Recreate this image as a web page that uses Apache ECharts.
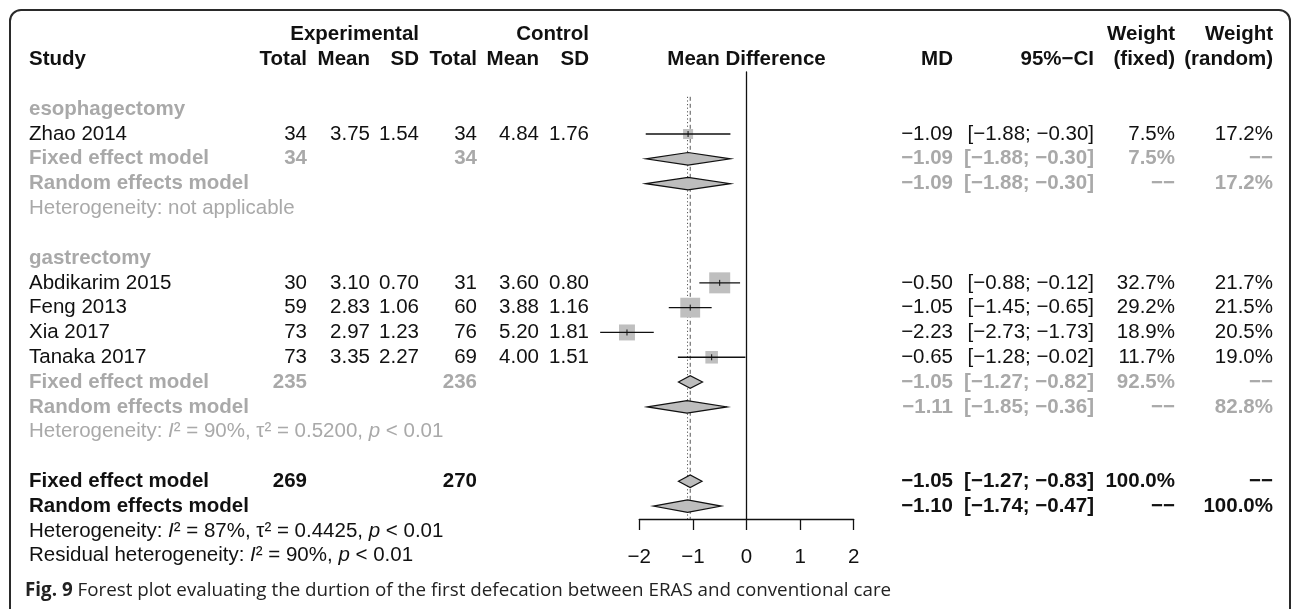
<!DOCTYPE html>
<html>
<head>
<meta charset="utf-8">
<script src="https://cdn.jsdelivr.net/npm/echarts@6/dist/echarts.min.js"></script>
<style>
  html, body { margin: 0; padding: 0; background: #fff; }
  #chart { width: 1292px; height: 609px; }
</style>
</head>
<body>
<div id="chart"></div>
<script>
// ---- Individual studies ----
const studyNames = ['Zhao 2014', 'Abdikarim 2015', 'Feng 2013', 'Xia 2017', 'Tanaka 2017'];
const studyGroup = [0, 1, 1, 1, 1];
const expTotal = [34, 30, 59, 73, 73];
const expMean = [3.75, 3.10, 2.83, 2.97, 3.35];
const expSD = [1.54, 0.70, 1.06, 1.23, 2.27];
const ctlTotal = [34, 31, 60, 76, 69];
const ctlMean = [4.84, 3.60, 3.88, 5.20, 4.00];
const ctlSD = [1.76, 0.80, 1.16, 1.81, 1.51];
const studyMD = [-1.09, -0.50, -1.05, -2.23, -0.65];
const studyLow = [-1.88, -0.88, -1.45, -2.73, -1.28];
const studyHigh = [-0.30, -0.12, -0.65, -1.73, -0.02];
const weightFixed = [7.5, 32.7, 29.2, 18.9, 11.7];
const weightRandom = [17.2, 21.7, 21.5, 20.5, 19.0];

// ---- Subgroup pooled estimates ----
const groupNames = ['esophagectomy', 'gastrectomy'];
const groupExpTotal = [34, 235];
const groupCtlTotal = [34, 236];
const groupFixedMD = [-1.09, -1.05];
const groupFixedLow = [-1.88, -1.27];
const groupFixedHigh = [-0.30, -0.82];
const groupFixedWeight = [7.5, 92.5];
const groupRandomMD = [-1.09, -1.11];
const groupRandomLow = [-1.88, -1.85];
const groupRandomHigh = [-0.30, -0.36];
const groupRandomWeight = [17.2, 82.8];
const groupHet = [
  'Heterogeneity: not applicable',
  'Heterogeneity: {i|I}\u00b2 = 90%, \u03c4\u00b2 = 0.5200, {i|p} < 0.01'
];

// ---- Overall pooled estimates (fixed, random) ----
const overallExpTotal = 269;
const overallCtlTotal = 270;
const overallMD = [-1.05, -1.10];
const overallLow = [-1.27, -1.74];
const overallHigh = [-0.83, -0.47];
const overallHet = [
  'Heterogeneity: {i|I}\u00b2 = 87%, \u03c4\u00b2 = 0.4425, {i|p} < 0.01',
  'Residual heterogeneity: {i|I}\u00b2 = 90%, {i|p} < 0.01'
];

const xTicks = [-2, -1, 0, 1, 2];

// ---- Presentation ----
const FONT = '"Liberation Sans", Arial, Helvetica, sans-serif';
const FONT_SIZE = 20.5;
const GRAY = '#a9a9a9';
const NONE = '\u2212\u2212';
const TEXT_STYLES = {
  plain: { fill: '#111', fontWeight: 'normal' },
  bold: { fill: '#111', fontWeight: 'bold' },
  grayBold: { fill: GRAY, fontWeight: 'bold' },
  gray: { fill: GRAY, fontWeight: 'normal' }
};
// right edge (or left edge for the study column) of each table column, in px
const COLUMNS = {
  study: [29, 'left'], expN: [307, 'right'], expMean: [370, 'right'], expSD: [419, 'right'],
  ctlN: [477, 'right'], ctlMean: [539, 'right'], ctlSD: [589, 'right'],
  md: [953, 'right'], ci: [1094, 'right'], wF: [1175, 'right'], wR: [1273, 'right']
};
const SQUARE_MAX = 21;        // side of the largest study square, px
const DIAMOND_HALF = 6.3;     // half height of pooled diamonds, px

const fmt2 = v => v.toFixed(2).replace('-', '\u2212');
const fmtCI = (lo, hi) => '[' + fmt2(lo) + '; ' + fmt2(hi) + ']';
const pct = w => w.toFixed(1) + '%';

// ---- Table lines (row index -> text cells) ----
const lines = [];
lines.push({ row: -3, cells: [
  ['expSD', 'Experimental', 'bold'], ['ctlSD', 'Control', 'bold'],
  ['wF', 'Weight', 'bold'], ['wR', 'Weight', 'bold']
]});
lines.push({ row: -2, cells: [
  ['study', 'Study', 'bold'], ['expN', 'Total', 'bold'], ['expMean', 'Mean', 'bold'], ['expSD', 'SD', 'bold'],
  ['ctlN', 'Total', 'bold'], ['ctlMean', 'Mean', 'bold'], ['ctlSD', 'SD', 'bold'],
  ['zero', 'Mean Difference', 'bold'], ['md', 'MD', 'bold'], ['ci', '95%\u2212CI', 'bold'],
  ['wF', '(fixed)', 'bold'], ['wR', '(random)', 'bold']
]});

const studyRow = [];
const diamonds = [];   // [md, low, high, row]
let r = 0;
groupNames.forEach((gName, g) => {
  lines.push({ row: r++, cells: [['study', gName, 'grayBold']] });
  studyNames.forEach((name, s) => {
    if (studyGroup[s] !== g) return;
    studyRow[s] = r;
    lines.push({ row: r++, cells: [
      ['study', name, 'plain'], ['expN', String(expTotal[s]), 'plain'],
      ['expMean', expMean[s].toFixed(2), 'plain'], ['expSD', expSD[s].toFixed(2), 'plain'],
      ['ctlN', String(ctlTotal[s]), 'plain'], ['ctlMean', ctlMean[s].toFixed(2), 'plain'],
      ['ctlSD', ctlSD[s].toFixed(2), 'plain'],
      ['md', fmt2(studyMD[s]), 'plain'], ['ci', fmtCI(studyLow[s], studyHigh[s]), 'plain'],
      ['wF', pct(weightFixed[s]), 'plain'], ['wR', pct(weightRandom[s]), 'plain']
    ]});
  });
  diamonds.push([groupFixedMD[g], groupFixedLow[g], groupFixedHigh[g], r]);
  lines.push({ row: r++, cells: [
    ['study', 'Fixed effect model', 'grayBold'], ['expN', String(groupExpTotal[g]), 'grayBold'],
    ['ctlN', String(groupCtlTotal[g]), 'grayBold'],
    ['md', fmt2(groupFixedMD[g]), 'grayBold'], ['ci', fmtCI(groupFixedLow[g], groupFixedHigh[g]), 'grayBold'],
    ['wF', pct(groupFixedWeight[g]), 'grayBold'], ['wR', NONE, 'grayBold']
  ]});
  diamonds.push([groupRandomMD[g], groupRandomLow[g], groupRandomHigh[g], r]);
  lines.push({ row: r++, cells: [
    ['study', 'Random effects model', 'grayBold'],
    ['md', fmt2(groupRandomMD[g]), 'grayBold'], ['ci', fmtCI(groupRandomLow[g], groupRandomHigh[g]), 'grayBold'],
    ['wF', NONE, 'grayBold'], ['wR', pct(groupRandomWeight[g]), 'grayBold']
  ]});
  lines.push({ row: r++, cells: [['study', groupHet[g], 'gray']] });
  r++; // spacer
});
diamonds.push([overallMD[0], overallLow[0], overallHigh[0], r]);
lines.push({ row: r++, cells: [
  ['study', 'Fixed effect model', 'bold'], ['expN', String(overallExpTotal), 'bold'],
  ['ctlN', String(overallCtlTotal), 'bold'],
  ['md', fmt2(overallMD[0]), 'bold'], ['ci', fmtCI(overallLow[0], overallHigh[0]), 'bold'],
  ['wF', pct(100), 'bold'], ['wR', NONE, 'bold']
]});
diamonds.push([overallMD[1], overallLow[1], overallHigh[1], r]);
lines.push({ row: r++, cells: [
  ['study', 'Random effects model', 'bold'],
  ['md', fmt2(overallMD[1]), 'bold'], ['ci', fmtCI(overallLow[1], overallHigh[1]), 'bold'],
  ['wF', NONE, 'bold'], ['wR', pct(100), 'bold']
]});
lines.push({ row: r++, cells: [['study', overallHet[0], 'plain']] });
lines.push({ row: r++, cells: [['study', overallHet[1], 'plain']] });

const ROW_TOP = -1.5;     // top of the plotting band
const ROW_AXIS = 16.52;   // where the x axis sits
const REF_TOP = -0.5;     // top of the pooled-estimate reference lines

const maxWeight = Math.max(...weightFixed);
const studyData = studyNames.map((n, s) => [studyMD[s], studyLow[s], studyHigh[s], studyRow[s], weightFixed[s]]);

function textEl(x, y, align, text, styleKey) {
  const st = TEXT_STYLES[styleKey];
  return {
    type: 'text', x: x, y: y,
    style: {
      text: text, fill: st.fill, fontWeight: st.fontWeight, fontSize: FONT_SIZE, fontFamily: FONT,
      align: align, verticalAlign: 'middle',
      rich: {
        i: { fontStyle: 'italic', fill: st.fill, fontWeight: st.fontWeight, fontSize: FONT_SIZE, fontFamily: FONT }
      }
    }
  };
}

const chart = echarts.init(document.getElementById('chart'), null, { renderer: 'canvas' });
chart.setOption({
  backgroundColor: '#fff',
  animation: false,
  title: {
    text: '{b|Fig. 9} Forest plot evaluating the durtion of the first defecation between ERAS and conventional care',
    left: 20, top: 576,
    textStyle: {
      fontFamily: '"Open Sans", sans-serif', fontSize: 18.8, fontWeight: 'normal', color: '#222',
      rich: { b: { fontFamily: '"Open Sans", sans-serif', fontSize: 18.8, fontWeight: 'bold', color: '#222' } }
    }
  },
  graphic: [{
    type: 'rect', z: -10, silent: true,
    shape: { x: 10, y: 10, width: 1280, height: 700, r: 11 },
    style: { fill: 'none', stroke: '#2a2a2a', lineWidth: 2 }
  }],
  grid: { left: 639.3, width: 214.4, top: 72, height: 447, containLabel: false },
  xAxis: {
    type: 'value', min: xTicks[0], max: xTicks[xTicks.length - 1], interval: 1,
    position: 'bottom',
    axisLine: { onZero: false, lineStyle: { color: '#111', width: 1.3 } },
    axisTick: { show: true, length: 11, lineStyle: { color: '#111', width: 1.3 } },
    axisLabel: {
      margin: 28, color: '#111', fontSize: FONT_SIZE, fontFamily: FONT,
      formatter: v => String(v).replace('-', '\u2212')
    },
    splitLine: { show: false }
  },
  yAxis: {
    type: 'value', inverse: true, min: ROW_TOP, max: ROW_AXIS,
    axisLine: { show: true, onZero: true, lineStyle: { color: '#111', width: 1.3 } },
    axisTick: { show: false }, axisLabel: { show: false }, splitLine: { show: false }
  },
  series: [
    {
      name: 'reference', type: 'custom', clip: false, silent: true,
      data: [[overallMD[0], 0], [overallMD[1], 1]],
      renderItem: (params, api) => {
        const top = api.coord([api.value(0), REF_TOP]);
        const bot = api.coord([api.value(0), ROW_AXIS]);
        const dashed = api.value(1) === 0;
        return {
          type: 'line',
          shape: { x1: top[0], y1: top[1], x2: bot[0], y2: bot[1] },
          style: { stroke: '#555', lineWidth: 1, lineDash: dashed ? [4, 3] : [1.2, 2.4] }
        };
      }
    },
    {
      name: 'pooled', type: 'custom', clip: false, silent: true,
      data: diamonds,
      renderItem: (params, api) => {
        const c = api.coord([api.value(0), api.value(3)]);
        const lo = api.coord([api.value(1), api.value(3)]);
        const hi = api.coord([api.value(2), api.value(3)]);
        return {
          type: 'polygon',
          shape: { points: [[lo[0], c[1]], [c[0], c[1] - DIAMOND_HALF], [hi[0], c[1]], [c[0], c[1] + DIAMOND_HALF]] },
          style: { fill: '#bdbdbd', stroke: '#111', lineWidth: 1.2 }
        };
      }
    },
    {
      name: 'studies', type: 'custom', clip: false, silent: true,
      data: studyData,
      renderItem: (params, api) => {
        const c = api.coord([api.value(0), api.value(3)]);
        const lo = api.coord([api.value(1), api.value(3)]);
        const hi = api.coord([api.value(2), api.value(3)]);
        const side = SQUARE_MAX * Math.sqrt(api.value(4) / maxWeight);
        return {
          type: 'group',
          children: [
            { type: 'rect', shape: { x: c[0] - side / 2, y: c[1] - side / 2, width: side, height: side },
              style: { fill: '#bfbfbf' } },
            { type: 'line', shape: { x1: lo[0], y1: c[1], x2: hi[0], y2: c[1] },
              style: { stroke: '#111', lineWidth: 1.3 } },
            { type: 'line', shape: { x1: c[0], y1: c[1] - 3, x2: c[0], y2: c[1] + 3 },
              style: { stroke: '#111', lineWidth: 1 } }
          ]
        };
      }
    },
    {
      name: 'table', type: 'custom', clip: false, silent: true,
      data: lines.map(l => [0, l.row]),
      renderItem: (params, api) => {
        const line = lines[params.dataIndex];
        const y = api.coord([0, api.value(1)])[1];
        const zeroX = api.coord([0, api.value(1)])[0];
        return {
          type: 'group',
          children: line.cells.map(([col, text, st]) => {
            if (col === 'zero') return textEl(zeroX, y, 'center', text, st);
            const [x, align] = COLUMNS[col];
            return textEl(x, y, align, text, st);
          })
        };
      }
    }
  ]
});
</script>
</body>
</html>
